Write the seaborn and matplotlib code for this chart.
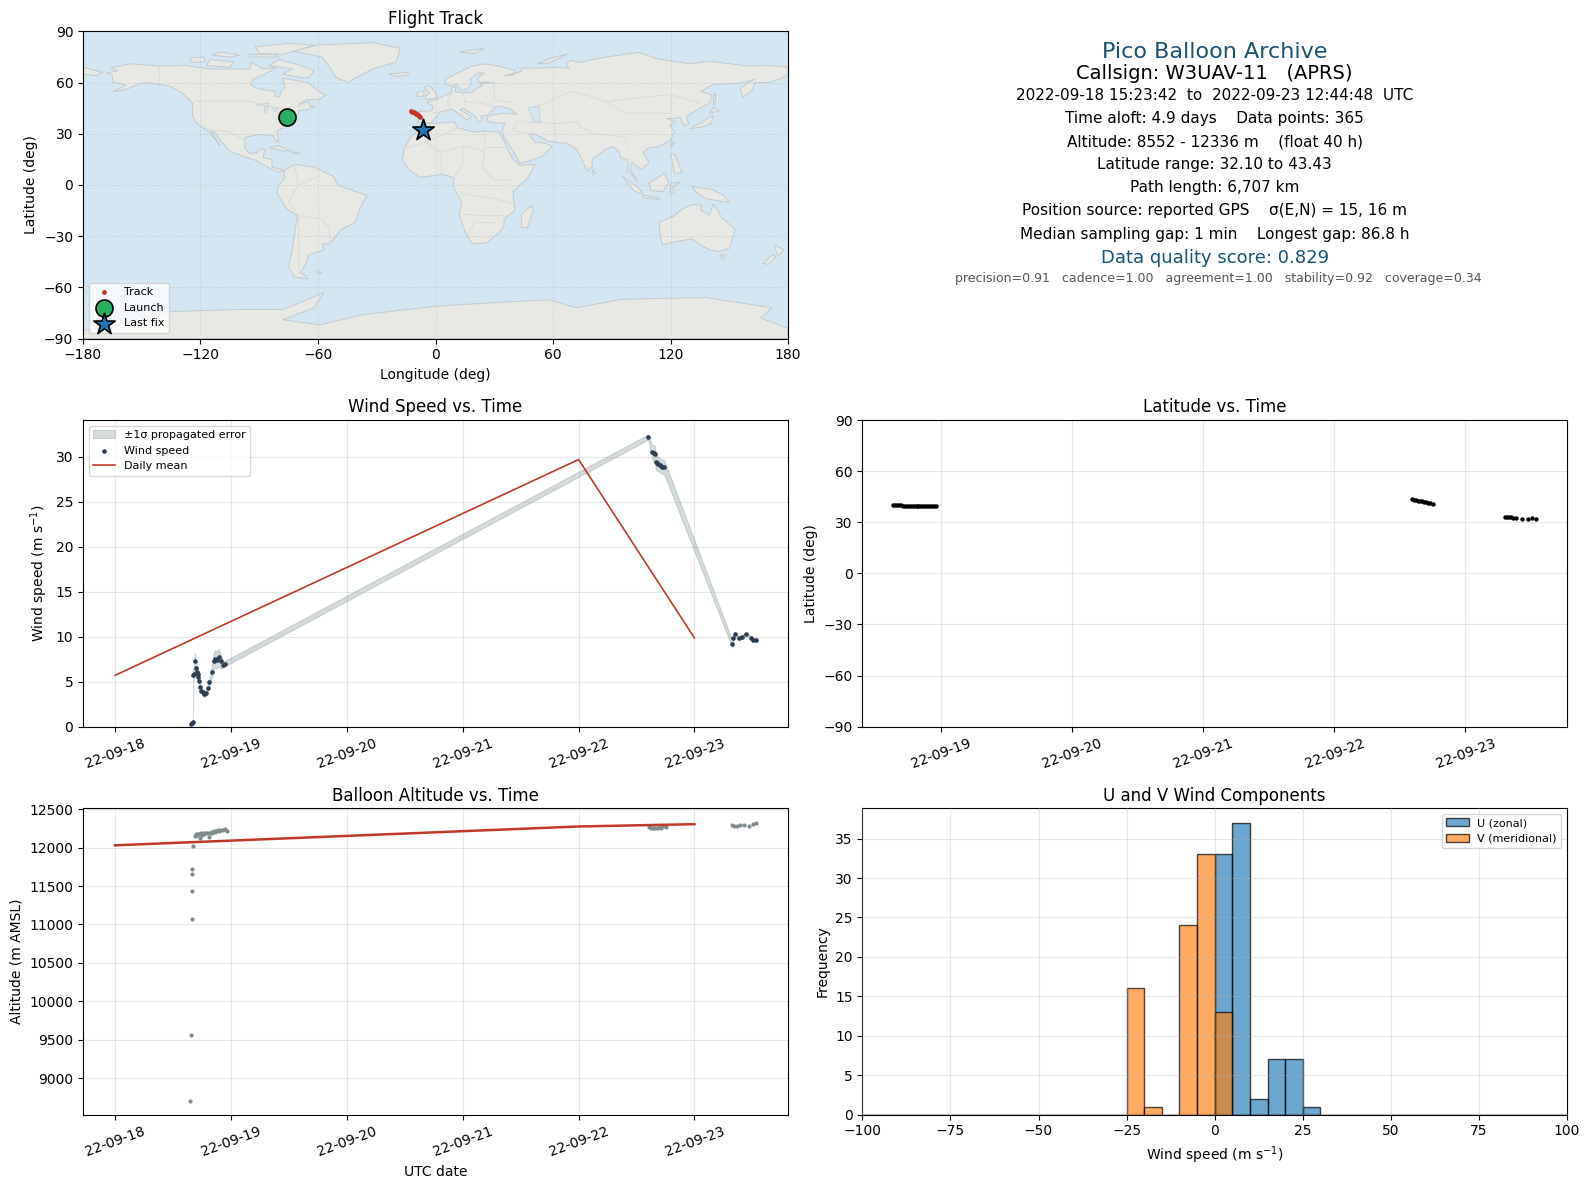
import matplotlib
matplotlib.use("Agg")
import matplotlib.pyplot as plt
import matplotlib.dates as mdates
import numpy as np
import pandas as pd
import seaborn as sns

# ---- Flight data (time = days after 2022-09-18 00:00) ----
wind_days = [0.652, 0.662, 0.672, 0.675, 0.680, 0.689, 0.697, 0.705, 0.712, 0.720, 0.725, 0.735,
             0.745, 0.755, 0.770, 0.785, 0.800, 0.815, 0.835, 0.850, 0.862, 0.880, 0.895, 0.910,
             0.930, 0.947, 4.600, 4.637, 4.650, 4.660, 4.666, 4.677, 4.688, 4.700, 4.708, 4.722,
             4.737, 5.326, 5.335, 5.350, 5.380, 5.406, 5.446, 5.490, 5.503, 5.527]
wind_speed = [0.30, 0.35, 0.50, 5.75, 5.90, 7.30, 6.50, 6.10, 5.90, 5.50, 5.10, 4.40,
              4.00, 3.90, 3.60, 3.70, 4.30, 5.00, 6.10, 7.30, 7.50, 7.40, 7.70, 7.30,
              6.90, 7.00, 32.2, 30.5, 30.4, 30.3, 29.4, 29.3, 29.2, 29.1, 29.0, 28.9,
              28.9, 9.20, 9.84, 10.3, 9.84, 9.96, 10.3, 9.90, 9.65, 9.65]
wind_err = [0.10, 0.10, 0.10, 0.60, 0.70, 0.90, 0.70, 0.50, 0.40, 0.30, 0.30, 0.30,
            0.30, 0.30, 0.30, 0.30, 0.30, 0.40, 0.70, 0.90, 1.00, 0.90, 1.00, 0.80,
            0.40, 0.30, 0.28, 0.80, 0.90, 0.90, 0.90, 0.80, 0.80, 0.80, 0.80, 0.80,
            0.80, 0.40, 0.25, 0.25, 0.20, 0.20, 0.15, 0.15, 0.15, 0.15]

mean_days = [0, 4, 5]
wind_daily = [5.7, 29.7, 9.85]
alt_daily = [12030, 12275, 12305]

lat_days = [0.631, 0.645, 0.660, 0.675, 0.690, 0.705, 0.720, 0.735, 0.750, 0.765, 0.780, 0.795,
            0.810, 0.825, 0.840, 0.855, 0.870, 0.885, 0.900, 0.915, 0.930, 0.945, 0.960,
            4.593, 4.610, 4.625, 4.640, 4.655, 4.670, 4.685, 4.700, 4.715, 4.730, 4.750,
            5.300, 5.315, 5.330, 5.345, 5.365, 5.385, 5.430, 5.480, 5.505, 5.535]
lat_deg = [40.3, 40.3, 40.2, 40.0, 39.9, 39.8, 39.7, 39.6, 39.6, 39.6, 39.6, 39.5,
           39.5, 39.5, 39.5, 39.5, 39.5, 39.5, 39.5, 39.5, 39.6, 39.6, 39.6,
           43.4, 43.0, 42.9, 42.7, 42.5, 42.3, 42.1, 41.8, 41.5, 41.3, 40.9,
           33.0, 33.0, 32.9, 32.8, 32.5, 32.4, 32.1, 32.1, 32.2, 32.1]

alt_days = [0.650, 0.652, 0.660, 0.664, 0.666, 0.667, 0.672,
            0.689, 0.695, 0.702, 0.710, 0.718, 0.726, 0.735, 0.745, 0.752, 0.760, 0.768, 0.778,
            0.788, 0.798, 0.808, 0.818, 0.828, 0.838, 0.850, 0.862, 0.875, 0.888, 0.900, 0.915,
            0.930, 0.945, 0.962,
            4.608, 4.625, 4.640, 4.655, 4.670, 4.685, 4.700, 4.715, 4.730, 4.750,
            5.320, 5.340, 5.365, 5.390, 5.430, 5.470, 5.505, 5.530]
alt_m = [8696, 9560, 11070, 11430, 11660, 11720, 12020,
         12150, 12160, 12172, 12165, 12180, 12175, 12130, 12185, 12170, 12190, 12180, 12185,
         12190, 12195, 12140, 12190, 12200, 12195, 12210, 12205, 12215, 12225, 12215, 12235,
         12225, 12240, 12215,
         12270, 12260, 12250, 12255, 12250, 12260, 12270, 12260, 12275, 12265,
         12300, 12285, 12280, 12300, 12295, 12285, 12305, 12325]

track_lon = [-12.3, -11.8, -11.2, -10.6, -10.0, -9.4, -8.8, -8.2, -7.7]
track_lat = [43.4, 43.0, 42.6, 42.2, 41.8, 41.4, 41.0, 40.5, 40.0]
launch_lon, launch_lat = [-75.7], [39.7]
last_lon, last_lat = [-6.4], [32.1]

u_centers = [2.5, 7.5, 12.5, 17.5, 22.5, 27.5]
u_counts = [33, 37, 2, 7, 7, 1]
v_centers = [-22.5, -17.5, -7.5, -2.5, 2.5]
v_counts = [16, 1, 24, 33, 13]

info_lines = [
    ("Pico Balloon Archive", 51, 16, "#1a5276"),
    ("Callsign: W3UAV-11   (APRS)", 73, 14, "black"),
    ("2022-09-18 15:23:42  to  2022-09-23 12:44:48  UTC", 94, 11, "black"),
    ("Time aloft: 4.9 days    Data points: 365", 117, 11, "black"),
    ("Altitude: 8552 - 12336 m    (float 40 h)", 140, 11, "black"),
    ("Latitude range: 32.10 to 43.43", 162, 11, "black"),
    ("Path length: 6,707 km", 185, 11, "black"),
    ("Position source: reported GPS    σ(E,N) = 15, 16 m", 208, 11, "black"),
    ("Median sampling gap: 1 min    Longest gap: 86.8 h", 231, 11, "black"),
    ("Data quality score: 0.829", 255, 13, "#1a5276"),
    ("  precision=0.91   cadence=1.00   agreement=1.00   stability=0.92   coverage=0.34", 275, 9, "#555555"),
]

# ---- Coarse world outlines (lon, lat) ----
land = [
    # north america
    [(-168,65.5),(-162,67),(-166,68.5),(-156,71),(-141,69.7),(-128,70),(-115,68),(-108,68),(-95,68),(-94,72),
     (-88,68),(-81.5,69),(-87,65),(-93,62),(-94.5,59),(-92,57),(-85,55.3),(-82,55),(-82,52),(-79.5,51.5),(-79,55),
     (-77,57),(-78,62.5),(-70,61),(-65,60),(-61,56),(-56,52.5),(-60,50),(-66,50),(-70,47),(-65,49),(-64,46),(-61,46),
     (-66,44),(-70,43.5),(-70,41.7),(-74,40.5),(-76,37),(-75.5,35.3),(-81,31.5),(-80,26),(-81,25),(-83,29),(-90,29.5),
     (-97,28),(-97.5,22),(-95,18.5),(-91,18.7),(-90.5,21),(-87,21),(-88,16),(-83.5,15),(-83.5,10.5),(-79.5,9.5),
     (-77.5,8.5),(-80,7.5),(-85,10),(-92,14.5),(-96,16),(-105,19.7),(-109,25),(-113,31),(-114.8,31.5),(-110,23),
     (-112,26),(-117,32.5),(-121,35),(-124,40),(-124,48),(-130,54.5),(-136,58),(-148,60),(-152,59),(-158,56),
     (-165,54.5),(-158,58.5),(-165,60.5),(-165,64)],
    # greenland and arctic islands
    [(-73,78.5),(-60,82),(-32,83.5),(-18,80),(-20,72),(-32,68),(-42,62),(-44,60),(-51,63),(-54,69),(-58,75)],
    [(-80,73.5),(-70,70.5),(-62,67),(-65,62.5),(-72,63.5),(-78,65),(-73,68),(-85,70)],
    [(-117,70),(-105,69),(-103,72),(-115,73.5)],
    [(-90,77),(-78,76.5),(-62,82),(-75,83),(-92,81)],
    [(-125,72),(-118,72),(-118,75),(-125,74.5)],
    [(-95,75),(-80,75),(-82,76.5),(-95,76.5)],
    [(-114,76),(-105,75),(-100,76),(-110,78)],
    # south america
    [(-77.5,8.5),(-72,12),(-62,10.5),(-52,5),(-50,0),(-44,-2.5),(-35,-6),(-39,-15),(-41,-22),(-48,-26),(-54,-34.5),
     (-58,-34.5),(-57,-38),(-65,-41),(-66,-46),(-69,-51),(-65,-55),(-72,-54),(-75,-48),(-73,-37),(-70.5,-18),(-76,-14),
     (-81,-5),(-80,0),(-77,4)],
    # africa
    [(-5.5,35.8),(10,37),(11,33.5),(20,31),(25,31.5),(32.5,31),(34,28),(37,21),(39.5,15),(43,11.5),(51,12),(47,4),
     (39.5,-4),(40.5,-15),(35,-20),(35,-24),(32.5,-28),(26,-34),(18.5,-34.5),(15,-27),(12,-17),(13.5,-10),(9,-1),
     (9.5,4),(4,6.3),(-4,5),(-8,4.5),(-13,8.5),(-17,14.7),(-16,21),(-13,27.5),(-9.5,31)],
    # eurasia
    [(-9,38.7),(-9,43),(-2,43.5),(-1,46),(-4.5,48.4),(1.5,50.5),(4,52),(8,54),(8.5,57),(10.5,57.5),(10,54.5),(14,54),
     (19,54.5),(21,57),(24,58),(23,59.5),(30,60),(25,60.2),(22,60),(21.5,63),(25,65.5),(22,65.8),(17.5,62),(18.5,60),
     (16.5,56.5),(14,55.5),(12.5,56),(11,59),(8,58),(5,59),(5,62),(12,66),(18,69.5),(25,71),(31,70),(41,67),(40,64.6),
     (35,64),(44,66.5),(44,68.5),(54,68.5),(60,69),(68,68.5),(67,71),(69,73),(73,72),(75,72),(80,73.5),(87,75),
     (104,77.7),(113,74),(130,71),(140,72.5),(160,69.7),(170,70),(180,69),(180,65),(177,62.5),(170,60),(163,60),
     (162,56),(156.7,51),(155.7,57),(163,62),(155,59.5),(142,59),(135.5,54.7),(141,53),(140,48),(132,43),(128,40),
     (129.3,36),(126.5,34.5),(126,37),(125,39.7),(121.5,39),(118,39),(122.5,37),(119.5,35),(122,31),(120,26),(114,22.5),
     (108.5,21.5),(106,19),(109,13),(105,9),(100,13.5),(99.5,9),(103.5,1.5),(100.5,6),(98,8),(98.5,15),(94.5,16),
     (94,19),(91,22.5),(87,21),(80,15),(80,11),(77.5,8),(73,19),(72,21),(67,24.5),(61.5,25),(57,25.7),(56,27),(50,30),
     (48,29.5),(51,25),(56,24.5),(59.5,22.5),(55,17),(45,13),(43,13),(39,21),(35,28),(34,31.5),(35.5,36),(30,36.5),
     (27,37),(26,39.5),(29,41),(35,42),(41.5,41.5),(39,44),(37,45),(33,46),(30.5,46),(28,42),(26,40.7),(23,40.5),
     (24,38),(22.5,36.5),(19.5,41),(14,45),(12.5,44),(18.5,40),(16,38),(13,41),(8.5,44.3),(3,43),(0,39.5),(-2,36.8),
     (-5.5,36),(-9,37)],
    [(-180,69),(-170,66),(-173,64),(-180,65)],
    # australia and the pacific
    [(114,-22),(122,-18),(126,-14),(131,-11.5),(136,-12),(135.5,-15),(140,-17.5),(142,-11),(146,-19),(153,-26),(150,-37),
     (145,-39),(140,-38),(135,-35),(131,-31.5),(124,-33),(116,-35),(115,-31)],
    [(145,-41),(148,-41),(147,-43.5)],
    [(173,-35),(178,-38),(175,-41.5),(174,-39)],
    [(172,-41),(174,-42),(170,-46.5),(167,-46)],
    [(131,-1),(141,-2.5),(147,-6),(150,-10.5),(143,-9),(138,-8),(133,-4)],
    [(95,5.5),(104,-2),(106,-6),(101,-3)],
    [(106,-6),(114,-7.5),(114,-8.5),(106,-7.5)],
    [(109,1),(117,7),(119,1),(116,-4),(110,-3)],
    [(120,1),(125,1.5),(121,-1),(122,-5),(120,-5)],
    [(120,18),(122,18),(124,13),(126,7),(122,7),(121,13)],
    [(120,22),(122,25),(120.5,25)],
    [(80,9),(82,7),(80.5,6)],
    # japan, sakhalin
    [(130,33),(136,34),(141,36),(141.5,41),(140,40),(136,36.5),(131,34)],
    [(140,42),(145,43.5),(142,45.5)],
    [(142,46),(143,50),(143,54),(142,52)],
    # europe islands
    [(-5,50),(1,51),(0,54),(-3,58.5),(-6,57),(-3,54),(-5,52)],
    [(-10,52),(-6,52),(-6,55),(-9,54.5)],
    [(-24,65),(-14,66),(-14,64.5),(-20,63.5)],
    [(12,78),(25,80),(20,77)],
    [(52,71),(58,74),(68,77),(58,71.5)],
    # others
    [(44,-25),(47,-25),(50,-15),(49,-12),(44,-17)],
    [(-85,22),(-80,23),(-74,20),(-78,20)],
    [(-74,19.5),(-68.5,18.5),(-72,18)],
    [(-61,-51),(-58,-51),(-59,-52.5)],
    # antarctica
    [(-180,-90),(-180,-85),(-165,-84),(-150,-77),(-136,-74.3),(-102,-73),(-78,-73),(-65,-67),(-57,-63),(-62,-72),
     (-78,-79),(-59,-82),(-37,-76),(1,-71),(30,-69),(58,-67.3),(72,-72),(95,-67),(138,-66),(172,-72),(166,-78),
     (180,-84),(180,-90)],
]
lakes = [
    [(47,45),(53,46.5),(53,40),(54,37),(50,37),(49,41)],
    [(-92,47),(-85,48),(-85,46.5)],
    [(-87.5,46),(-85,46),(-87,42)],
    [(-84,46),(-80,45),(-82,43)],
]
borders = [
    [(-141,69.7),(-141,60)], [(-123,49),(-95,49),(-82,45),(-75,45),(-67,47)], [(-117,32.5),(-106,31.5),(-97,26)],
    [(-70,-18),(-58,-20),(-54,-26),(-54,-34)], [(-70,-18),(-70,-50)], [(-72,12),(-70,0),(-60,5)], [(-70,0),(-75,-10),(-70,-18)],
    [(-17,21),(-5,25),(11,33)], [(25,31.5),(25,20),(24,10),(30,3),(40,3)], [(-5,25),(3,19),(14,23),(25,20)],
    [(3,19),(3,6)], [(14,23),(14,12),(9,4)], [(36,22),(25,22)], [(13,-5),(30,-8),(40,-11)], [(12,-17),(25,-18),(35,-18)],
    [(17,-28),(20,-22),(30,-22)], [(-2,43),(3,43)], [(8,54),(6,49),(8,44)], [(14,54),(15,49),(23,48),(30,46)],
    [(30,60),(30,50),(40,48)], [(50,45),(70,55),(87,49),(120,53),(135,48)], [(87,49),(97,42),(120,42),(120,53)],
    [(73,35),(80,30),(97,28),(98,22)], [(61.5,25),(61,36),(73,37),(73,35)], [(45,37),(61,36)], [(48,30),(39,32),(42,37)],
]

# ---- Layout, pixel boxes of the panels ----
W, H = 1589, 1189
def panel(x0, y0, x1, y1):
    return fig.add_axes([x0 / W, 1 - y1 / H, (x1 - x0) / W, (y1 - y0) / H])

fig = plt.figure(figsize=(W / 100, H / 100), dpi=100)
ax_map = panel(83, 31.4, 788, 338.5)
ax_info = panel(862.4, 31.4, 1567, 338.5)
ax_wind = panel(83, 420, 788, 726.6)
ax_lat = panel(862.4, 420, 1567, 726.6)
ax_alt = panel(83, 808.2, 788, 1114.7)
ax_hist = panel(862.4, 808.2, 1567, 1114.7)

base = pd.Timestamp("2022-09-18")
def to_time(days):
    return base + pd.to_timedelta(np.array(days), unit="D")

col_red = "#c0392b"
col_navy = "#2c3e50"
col_gray = "#7f8c8d"

# ---- Map ----
ax_map.set_facecolor("#d4e6f1")
for poly in land:
    ax_map.fill(*zip(*poly), facecolor="#e8e8e4", edgecolor="#c2cbd0", linewidth=0.7, zorder=1)
for poly in lakes:
    ax_map.fill(*zip(*poly), facecolor="#d4e6f1", edgecolor="#c2cbd0", linewidth=0.5, zorder=1.1)
for line in borders:
    ax_map.plot(*zip(*line), color="#d8dad8", linewidth=0.6, zorder=1.2)
ax_map.grid(True, linestyle=":", linewidth=0.6, color="#aab4ba", alpha=0.6)
ax_map.set_axisbelow("line")
sns.scatterplot(x=track_lon, y=track_lat, ax=ax_map, color=col_red, s=12, linewidth=0, zorder=3, label="Track")
sns.scatterplot(x=launch_lon, y=launch_lat, ax=ax_map, color="#27ae60", s=150, edgecolor="black", linewidth=1.2,
                zorder=4, label="Launch")
sns.scatterplot(x=last_lon, y=last_lat, ax=ax_map, color="#1f77b4", marker="*", s=260, edgecolor="black", linewidth=1.2,
                zorder=5, label="Last fix")
ax_map.set_xlim(-180, 180)
ax_map.set_ylim(-90, 90)
ax_map.set_xticks(np.arange(-180, 181, 60))
ax_map.set_yticks(np.arange(-90, 91, 30))
ax_map.set_xlabel("Longitude (deg)")
ax_map.set_ylabel("Latitude (deg)")
ax_map.set_title("Flight Track", pad=5)
ax_map.legend(loc="lower left", fontsize=8)

# ---- Summary text ----
ax_info.axis("off")
for text, y_px, size, color in info_lines:
    fig.text(1214.6 / W, 1 - y_px * 1.0134 / H, text, ha="center", va="center", fontsize=size, color=color)

# ---- Wind speed ----
wind_t = to_time(wind_days)
low = np.array(wind_speed) - np.array(wind_err)
high = np.array(wind_speed) + np.array(wind_err)
ax_wind.fill_between(wind_t, low, high, color="#95a5a6", alpha=0.4, linewidth=0.8, label="±1σ propagated error")
sns.scatterplot(x=wind_t, y=wind_speed, ax=ax_wind, color=col_navy, s=11, linewidth=0, zorder=3, label="Wind speed")
sns.lineplot(x=to_time(mean_days), y=wind_daily, ax=ax_wind, color=col_red, linewidth=1.2, label="Daily mean")
ax_wind.set_ylim(0, 34.1)
ax_wind.set_yticks(np.arange(0, 31, 5))
ax_wind.set_xlabel("")
ax_wind.set_ylabel("Wind speed (m s$^{-1}$)")
ax_wind.set_title("Wind Speed vs. Time")
ax_wind.legend(loc="upper left", fontsize=8)

# ---- Latitude ----
sns.scatterplot(x=to_time(lat_days), y=lat_deg, ax=ax_lat, color="black", s=10, linewidth=0)
ax_lat.set_ylim(-90, 90)
ax_lat.set_yticks(np.arange(-90, 91, 30))
ax_lat.set_xlabel("")
ax_lat.set_ylabel("Latitude (deg)")
ax_lat.set_title("Latitude vs. Time")

# ---- Altitude ----
sns.scatterplot(x=to_time(alt_days), y=alt_m, ax=ax_alt, color=col_gray, s=9, linewidth=0)
sns.lineplot(x=to_time(mean_days), y=alt_daily, ax=ax_alt, color=col_red, linewidth=1.8)
ax_alt.set_ylim(8524, 12513)
ax_alt.set_yticks(np.arange(9000, 12501, 500))
ax_alt.set_xlabel("UTC date")
ax_alt.set_ylabel("Altitude (m AMSL)")
ax_alt.set_title("Balloon Altitude vs. Time", pad=5)

for ax in (ax_wind, ax_lat, ax_alt):
    ax.xaxis.set_major_locator(mdates.DayLocator())
    ax.xaxis.set_major_formatter(mdates.DateFormatter("%y-%m-%d"))
    ax.tick_params(axis="x", rotation=20)
    ax.grid(True, color="#b0b0b0", linewidth=0.8, alpha=0.3)
    ax.set_axisbelow(True)
ax_wind.set_xlim(to_time([-0.2765])[0], to_time([5.807])[0])
ax_alt.set_xlim(to_time([-0.2765])[0], to_time([5.807])[0])
ax_lat.set_xlim(to_time([0.397])[0], to_time([5.775])[0])

# ---- Histogram ----
edge = (0, 0, 0, 0.7)
sns.histplot(x=u_centers, weights=u_counts, binwidth=5, binrange=(-100, 100), ax=ax_hist, color="#1f77b4", alpha=0.65,
             edgecolor=edge, linewidth=1, label="U (zonal)")
sns.histplot(x=v_centers, weights=v_counts, binwidth=5, binrange=(-100, 100), ax=ax_hist, color="#ff7f0e", alpha=0.65,
             edgecolor=edge, linewidth=1, label="V (meridional)")
ax_hist.set_xlim(-100, 100)
ax_hist.set_ylim(0, 38.85)
ax_hist.set_xticks(np.arange(-100, 101, 25))
ax_hist.set_yticks(np.arange(0, 36, 5))
ax_hist.set_xlabel("Wind speed (m s$^{-1}$)")
ax_hist.set_ylabel("Frequency")
ax_hist.set_title("U and V Wind Components", pad=5)
ax_hist.grid(True, color="#b0b0b0", linewidth=0.8, alpha=0.3)
ax_hist.set_axisbelow(False)
ax_hist.legend(loc="upper right", fontsize=8)

fig.savefig("out.png", dpi=100)
